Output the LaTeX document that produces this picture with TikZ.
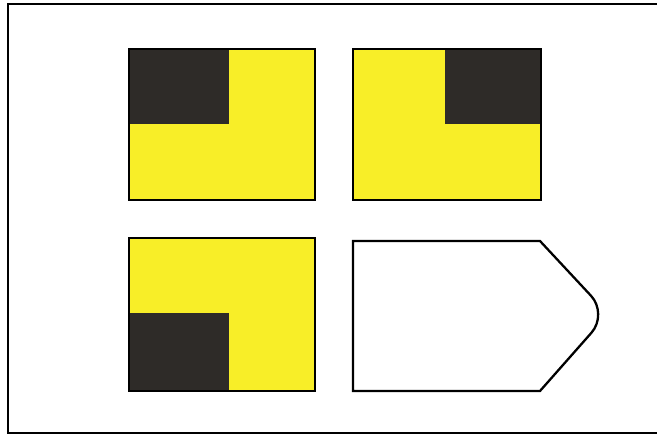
\documentclass[tikz,border=0pt]{standalone}
\usepackage{tikz}
\usepackage{xcolor}
\definecolor{flagyellow}{RGB}{248,238,40}
\definecolor{flagdark}{RGB}{46,43,40}

\begin{document}
\begin{tikzpicture}[x=0.02cm, y=-0.02cm, line width=1.3pt]
  \useasboundingbox (0,0) rectangle (657,436);
  % frame, open on the right
  \draw (657,4) -- (8,4) -- (8,433) -- (657,433);
  % top left: dark corner upper left
  \fill[flagyellow] (129,49) rectangle (315,200);
  \fill[flagdark] (129,49) rectangle (229,124);
  \draw (129,49) rectangle (315,200);
  % top right: dark corner upper right
  \fill[flagyellow] (353,49) rectangle (541,200);
  \fill[flagdark] (445,49) rectangle (541,124);
  \draw (353,49) rectangle (541,200);
  % bottom left: dark corner lower left
  \fill[flagyellow] (129,238) rectangle (315,391);
  \fill[flagdark] (129,313) rectangle (229,391);
  \draw (129,238) rectangle (315,391);
  % bottom right: blank pointer
  \draw (353,241) -- (540,241) [rounded corners=0.5cm] -- (608,314) [sharp corners] -- (540,391) -- (353,391) -- cycle;
\end{tikzpicture}
\end{document}
